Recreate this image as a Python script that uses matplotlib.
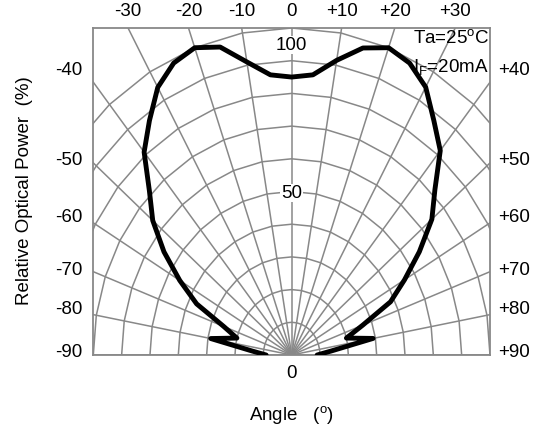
import numpy as np
import matplotlib
matplotlib.use('Agg')
import matplotlib.pyplot as plt

plt.rcParams['font.family'] = ['Liberation Sans', 'DejaVu Sans']
plt.rcParams['mathtext.fontset'] = 'custom'
plt.rcParams['mathtext.rm'] = 'Liberation Sans'
plt.rcParams['mathtext.it'] = 'Liberation Sans:italic'

# radiation pattern: angle from LED axis (deg) and relative optical power (%)
angles = [-90, -85, -80, -75, -70, -65, -60, -55, -50, -45, -40, -35, -30, -25, -20, -15, -10, -5,
          0, 5, 10, 15, 20, 25, 30, 35, 40, 45, 50, 55, 60, 65, 70, 75, 80, 85, 90]
power = [9, 14, 29, 20, 25.5, 37, 45.6, 55, 64, 71, 81, 87.5, 94.5, 98.5, 100, 97.5, 91, 86,
         85, 86, 91.5, 97.2, 100, 98.5, 94.6, 87.5, 81.6, 71.5, 64.6, 55, 46, 38.5, 26.7, 20, 29.2, 14, 9]

# grid
grid_angles = np.arange(-90, 91, 10)
grid_radii = np.arange(10, 101, 10)

# tick labels
top_angles = [-30, -20, -10, 0, 10, 20, 30]
top_labels = ['-30', '-20', '-10', '0', '+10', '+20', '+30']
side_left = ['-40', '-50', '-60', '-70', '-80', '-90']
side_right = ['+40', '+50', '+60', '+70', '+80', '+90']
side_pos = [87.5, 60.2, 42.8, 26.6, 14.4, 1.5]

GRID_C = '#888888'
FS = 13.5

fig = plt.figure(figsize=(5.35, 4.30), dpi=100)
ax = fig.add_axes([93.3 / 535, 75 / 430, 396.7 / 535, 327 / 430])
ax.set_xlim(-70, 70)
ax.set_ylim(0, 100)

th = np.radians(grid_angles)
for r in grid_radii:
    ax.plot(r * np.sin(th), r * np.cos(th), color=GRID_C, lw=1.1, zorder=1)
for a in th:
    ax.plot([0, 200 * np.sin(a)], [0, 200 * np.cos(a)], color=GRID_C, lw=1.1, zorder=1)

t = np.radians(angles)
p = np.array(power)
ax.plot(p * np.sin(t), p * np.cos(t), color='black', lw=3.5,
        solid_joinstyle='round', solid_capstyle='round', zorder=3)

for s in ax.spines.values():
    s.set_color(GRID_C)
    s.set_linewidth(1.3)

ax.xaxis.tick_top()
ax.set_xticks(100 * np.tan(np.radians(top_angles)))
ax.set_xticklabels(top_labels, fontsize=FS)
ax.tick_params(axis='x', length=0, pad=6)

ax.set_yticks(side_pos)
ax.set_yticklabels(side_left, fontsize=FS)
ax.tick_params(axis='y', length=0, pad=8)
sec = ax.secondary_yaxis('right')
sec.set_yticks(side_pos)
sec.set_yticklabels(side_right, fontsize=FS)
sec.tick_params(length=0, pad=6)
sec.spines['right'].set_visible(False)

box = dict(facecolor='white', edgecolor='none', pad=0.5)
ax.text(0, 94.8, '100', ha='center', va='center', fontsize=FS, bbox=box, zorder=2)
ax.text(0, 49.5, '50', ha='center', va='center', fontsize=FS, bbox=box, zorder=2)
ax.annotate('0', (0, 0), xytext=(0, -7), textcoords='offset points',
            ha='center', va='top', fontsize=FS, annotation_clip=False)

ax.text(0.998, 0.969, 'Ta=25$^{\\rm o}$C', transform=ax.transAxes, ha='right', va='center', fontsize=FS)
ax.text(0.998, 0.881, 'I$_{\\rm F}$=20mA', transform=ax.transAxes, ha='right', va='center', fontsize=FS)

fig.text(291.7 / 535, 1 - 415 / 430, 'Angle   ($^{\\rm o}$)', ha='center', va='center', fontsize=FS)
fig.text(25 / 535, 1 - 191 / 430, 'Relative Optical Power  (%)', rotation=90,
         ha='center', va='center', fontsize=FS)

fig.savefig('out.png', dpi=100)
